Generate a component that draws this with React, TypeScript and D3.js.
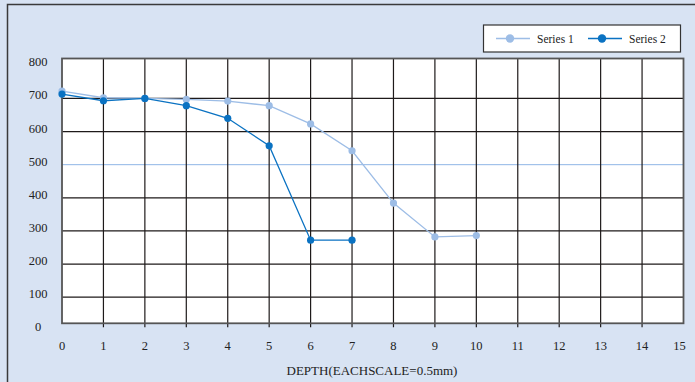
import React from "react";
import * as d3 from "d3";

const depths = [0, 1, 2, 3, 4, 5, 6, 7, 8, 9, 10];
const series1 = [722, 702, 700, 697, 692, 678, 623, 542, 384, 282, 286];
const series2 = [713, 693, 700, 678, 640, 557, 272, 272];
const xTicks = d3.range(0, 16);
const yTicks = [0, 100, 200, 300, 400, 500, 600, 700, 800];
const seriesNames = ["Series 1", "Series 2"];
const seriesColors = ["#9dbde6", "#0a72c2"];
const xTitle = "DEPTH(EACHSCALE=0.5mm)";

const W = 695;
const H = 382;
const plotL = 62;
const plotR = 683.5;
const plotT = 58.5;
const plotB = 323.3;

export default function App() {
  const x = d3.scaleLinear().domain([0, 15]).range([plotL, plotR]);
  const y = d3.scaleLinear().domain([0, 800]).range([330.3, 65.3]);
  const line = d3
    .line<[number, number]>()
    .x((d) => x(d[0]))
    .y((d) => y(d[1]));
  const data = [
    series1.map((v, i) => [depths[i], v] as [number, number]),
    series2.map((v, i) => [depths[i], v] as [number, number]),
  ];
  const fontStyle = { fontFamily: "Liberation Serif, serif" };
  return (
    <svg
      width={W}
      height={H}
      style={{ position: "absolute", left: 0, top: 0, ...fontStyle }}
    >
      <rect x={0} y={0} width={W} height={H} fill="#d8e3f3" />
      <path d={`M7.5,${H} V4.5 H${W}`} fill="none" stroke="#3a3a3a" strokeWidth={1.5} />
      <rect x={plotL} y={plotT} width={plotR - plotL} height={plotB - plotT} fill="#ffffff" />
      {yTicks
        .filter((t) => t > 0 && t < 800)
        .map((t) => (
          <line
            key={"h" + t}
            x1={plotL}
            x2={plotR}
            y1={y(t)}
            y2={y(t)}
            stroke={t === 500 ? "#8fb6e6" : "#1e1a1a"}
            strokeWidth={t === 500 ? 1 : 1.2}
          />
        ))}
      {xTicks
        .filter((t) => t > 0 && t < 15)
        .map((t) => (
          <line
            key={"v" + t}
            x1={x(t)}
            x2={x(t)}
            y1={plotT}
            y2={plotB + 4}
            stroke="#1e1a1a"
            strokeWidth={1.2}
          />
        ))}
      <rect
        x={plotL}
        y={plotT}
        width={plotR - plotL}
        height={plotB - plotT}
        fill="none"
        stroke="#555555"
        strokeWidth={1.8}
      />
      {yTicks.map((t) => (
        <text
          key={"yl" + t}
          x={38}
          y={y(t) - 3}
          textAnchor="middle"
          dominantBaseline="central"
          fontSize={12.5}
          fill="#222"
          style={fontStyle}
        >
          {t}
        </text>
      ))}
      {xTicks.map((t) => (
        <text
          key={"xl" + t}
          x={t === 15 ? x(t) - 4 : x(t)}
          y={346}
          textAnchor="middle"
          dominantBaseline="central"
          fontSize={12.5}
          fill="#222"
          style={fontStyle}
        >
          {t}
        </text>
      ))}
      <text
        x={372}
        y={370}
        textAnchor="middle"
        dominantBaseline="central"
        fontSize={13}
        fill="#222"
        style={fontStyle}
      >
        {xTitle}
      </text>
      {data.map((d, i) => (
        <g key={"s" + i}>
          <path d={line(d) || ""} fill="none" stroke={seriesColors[i]} strokeWidth={1.3} />
          {d.map((p, j) => (
            <circle key={j} cx={x(p[0])} cy={y(p[1])} r={3.6} fill={seriesColors[i]} />
          ))}
        </g>
      ))}
      <rect x={483.5} y={25} width={197} height={27} fill="#ffffff" stroke="#333" strokeWidth={1.2} />
      {seriesNames.map((n, i) => (
        <g key={"lg" + i} transform={`translate(${496 + i * 92},38.5)`}>
          <line x1={0} x2={34} y1={0} y2={0} stroke={seriesColors[i]} strokeWidth={1.5} />
          <circle cx={14} cy={0} r={4.2} fill={seriesColors[i]} />
          <text x={41} y={0} dominantBaseline="central" fontSize={11.5} fill="#222" style={fontStyle}>
            {n}
          </text>
        </g>
      ))}
    </svg>
  );
}
